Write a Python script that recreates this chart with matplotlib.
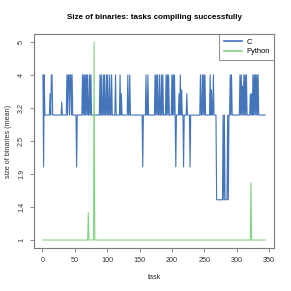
import numpy as np
import matplotlib
matplotlib.use("Agg")
import matplotlib.pyplot as plt

plt.rcParams['font.family'] = ['Liberation Sans', 'DejaVu Sans']

# ---- data ----
tasks = np.arange(1, 345)

c_baseline = 3.0
c_change_tasks = [1, 2, 3, 12, 14, 15, 30, 38, 40, 41, 43, 44, 46, 53,
                  62, 64, 66, 68, 70, 73, 75, 89, 91, 94, 96, 99, 101, 104, 107,
                  113, 120, 122, 132, 135, 155, 160, 163, 174, 176, 178, 181,
                  184, 186, 191, 193, 195, 200, 202, 204, 206, 211, 213, 215,
                  218, 223, 228, 244, 247, 249, 251, 259, 261, 264,
                  269, 270, 271, 272, 273, 274, 275, 276, 277, 278, 279, 280,
                  281, 282, 283, 284, 285, 286, 287, 288,
                  290, 292, 305, 307, 309, 311, 313, 315, 321, 323,
                  325, 327, 329, 331, 333]
c_change_values = [4, 2, 4, 3.5, 4, 4, 3.3, 4, 4, 4, 4, 4, 4, 2,
                   4, 4, 4, 4, 4, 4, 4, 4, 4, 4, 4, 4, 4, 4, 4,
                   4, 4, 3.5, 4, 4, 2, 4, 4, 4, 4, 4, 4,
                   4, 4, 4, 4, 4, 4, 4, 4, 2, 3.5, 4, 3.6,
                   2, 3.5, 2, 4, 4, 4, 4, 4, 3.6, 4,
                   1.5, 1.5, 1.5, 1.5, 1.5, 1.5, 1.5, 1.5, 1.5, 1.5, 3, 1.5,
                   3, 1.5, 1.5, 1.5, 1.5, 3, 1.5, 3,
                   4, 4, 4, 4, 3.7, 4, 4, 4, 3.5, 3.5,
                   4, 4, 4, 4, 4]

py_baseline = 1.0
py_change_tasks = [71, 80, 322]
py_change_values = [1.33, 5.0, 1.75]

c_values = np.full(len(tasks), c_baseline)
for t, v in zip(c_change_tasks, c_change_values):
    c_values[t - 1] = v
py_values = np.full(len(tasks), py_baseline)
for t, v in zip(py_change_tasks, py_change_values):
    py_values[t - 1] = v

x_ticks = [0, 50, 100, 150, 200, 250, 300, 350]
y_tick_pos = np.expm1(np.linspace(np.log(2), np.log(6), 7))
y_tick_labels = ['%.2g' % v for v in y_tick_pos]

title = "Size of binaries: tasks compiling successfully"
series_names = ["C", "Python"]
colors = ["#2f65b3", "#7fd27f"]

# ---- figure ----
fig = plt.figure(figsize=(2.91, 2.91), dpi=100)
ax = fig.add_axes([0.117, 0.148, 0.825, 0.735])
ax.set_yscale('function', functions=(np.log1p, np.expm1))

ax.plot(tasks, c_values, color=colors[0], lw=0.8, alpha=0.9, label=series_names[0])
ax.plot(tasks, py_values, color=colors[1], lw=0.8, alpha=0.95, label=series_names[1])

xr = tasks.max() - tasks.min()
ax.set_xlim(tasks.min() - 0.04 * xr, tasks.max() + 0.04 * xr)
lo, hi = np.log1p(1.0), np.log1p(5.0)
yr = hi - lo
ax.set_ylim(np.expm1(lo - 0.04 * yr), np.expm1(hi + 0.04 * yr))

ax.set_xticks(x_ticks)
ax.set_xticklabels([str(t) for t in x_ticks])
ax.set_yticks(y_tick_pos)
ax.set_yticklabels(y_tick_labels, rotation=90, va='center')
ax.yaxis.set_minor_locator(matplotlib.ticker.NullLocator())
ax.xaxis.set_minor_locator(matplotlib.ticker.NullLocator())

frame_col = "#7a7a7a"
for s in ax.spines.values():
    s.set_color(frame_col)
    s.set_linewidth(0.8)
ax.tick_params(axis='both', length=3, width=0.6, color=frame_col,
               labelsize=5.2, labelcolor="#333333", pad=3.5)

ax.set_xlabel("task", fontsize=5.2, color="#333333", labelpad=7)
ax.set_ylabel("size of binaries (mean)", fontsize=5.2, color="#333333", labelpad=4)
ax.set_title(title, fontsize=5.8, fontweight='bold', pad=11)

leg = ax.legend(loc='upper right', fontsize=5.4, frameon=True, fancybox=False,
                borderaxespad=0, handlelength=2.4, borderpad=0.6,
                labelspacing=0.3, handletextpad=0.6)
leg.get_frame().set_edgecolor(frame_col)
leg.get_frame().set_linewidth(0.8)
for h in leg.get_lines():
    h.set_linewidth(1.2)

fig.savefig("out.png", dpi=100)
